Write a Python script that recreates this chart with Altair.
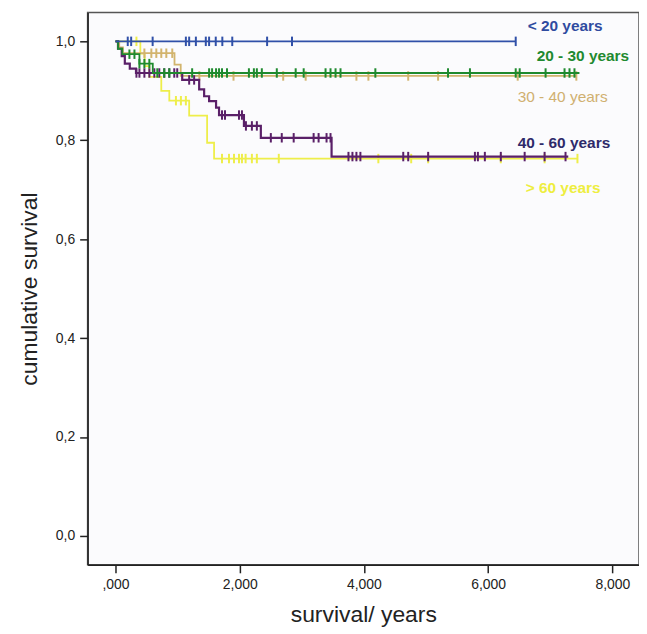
import altair as alt
import pandas as pd

# ---- data ----
groups = ["< 20 years", "20 - 30 years", "30 - 40 years", "40 - 60 years", "> 60 years"]
colors = ["#3050a8", "#1f8a2e", "#d2b46e", "#5a2068", "#eeee4a"]
label_colors = ["#2f4ba0", "#1f8a30", "#d0b070", "#2e2a6a", "#eeee40"]

blue_t = [0, 6444]
blue_s = [1.0, 1.0]
blue_cens = [197, 252, 598, 1133, 1186, 1294, 1454, 1507, 1614, 1720, 1880, 2441, 2842, 6444]

green_t = [0, 40, 110, 385, 600, 7470]
green_s = [1.0, 0.985, 0.974, 0.955, 0.936, 0.936]
green_cens = [224, 305, 385, 465, 545, 673, 785, 866, 1234, 1507, 1555, 1619, 1667, 1715,
              1795, 2148, 2228, 2276, 2356, 2597, 2901, 3030, 3382, 3462, 3543, 3623, 4184,
              5354, 5707, 6444, 6508, 6925, 7230, 7310, 7390]

tan_t = [0, 60, 120, 950, 1050, 7420]
tan_s = [1.0, 0.988, 0.976, 0.953, 0.93, 0.93]
tan_cens = [465, 577, 657, 737, 818, 914, 1350, 1900, 2700, 3062, 3879, 4072, 4713, 5194, 6476, 7420]

purple_t = [0, 40, 100, 150, 230, 330, 1074, 1347, 1427, 1507, 1619, 1667, 2068, 2340, 3479, 7290]
purple_s = [1.0, 0.985, 0.97, 0.955, 0.945, 0.936, 0.922, 0.903, 0.889, 0.879, 0.866, 0.851,
            0.829, 0.805, 0.767, 0.767]
purple_cens = [337, 385, 465, 545, 625, 705, 785, 866, 946, 994, 1186, 1266, 1715, 1763, 1988,
               2036, 2100, 2196, 2276, 2501, 2677, 2869, 3190, 3270, 3398, 3462, 3751, 3815,
               3879, 3943, 4633, 4713, 5034, 5787, 5835, 5947, 6204, 6588, 6909, 7246]

yellow_t = [0, 400, 470, 545, 737, 866, 1186, 1475, 1587, 7438]
yellow_s = [1.0, 0.975, 0.95, 0.928, 0.90, 0.88, 0.85, 0.795, 0.763, 0.763]
yellow_cens = [337, 973, 1053, 1133, 1715, 1827, 1908, 1988, 2036, 2095, 2196, 2276, 2629,
               4232, 4761, 5034, 6204, 6909, 7438]

label_x = [6636, 6781, 6476, 6476, 6604]
label_y = [1.030, 0.970, 0.887, 0.795, 0.704]
label_bold = [True, True, False, True, True]

x_ticks = [0, 2000, 4000, 6000, 8000]
y_ticks = [0.0, 0.2, 0.4, 0.6, 0.8, 1.0]

series = {
    "< 20 years": (blue_t, blue_s, blue_cens),
    "20 - 30 years": (green_t, green_s, green_cens),
    "30 - 40 years": (tan_t, tan_s, tan_cens),
    "40 - 60 years": (purple_t, purple_s, purple_cens),
    "> 60 years": (yellow_t, yellow_s, yellow_cens),
}
draw_order = ["> 60 years", "30 - 40 years", "40 - 60 years", "20 - 30 years", "< 20 years"]

line_rows, cens_rows = [], []
for g in groups:
    t, s, c = series[g]
    for ti, si in zip(t, s):
        line_rows.append({"group": g, "t": ti, "s": si})
    for ci in c:
        sv = [si for ti, si in zip(t, s) if ti <= ci][-1]
        cens_rows.append({"group": g, "t": ci, "s": sv})
lines_df = pd.DataFrame(line_rows)
cens_df = pd.DataFrame(cens_rows)

FONT = "Liberation Sans"
xscale = alt.Scale(domain=[-449, 8429], nice=False, zero=False)
yscale = alt.Scale(domain=[-0.0584, 1.0584], nice=False, zero=False)
cscale = alt.Scale(domain=groups, range=colors)

xenc = alt.X("t:Q", scale=xscale, title="survival/ years",
             axis=alt.Axis(values=x_ticks, grid=False, tickSize=8, tickWidth=1.5,
                           tickColor="#222", domainColor="#222", domainWidth=1.5,
                           labelFont=FONT, labelFontSize=14, labelColor="#222",
                           labelPadding=5,
                           labelExpr="datum.value == 0 ? ',000' : replace(format(datum.value/1000, '.3f'), '.', ',')",
                           titleFont=FONT, titleFontSize=23, titleFontWeight="normal",
                           titleColor="#222", titlePadding=12))
yenc = alt.Y("s:Q", scale=yscale, title="cumulative survival",
             axis=alt.Axis(values=y_ticks, grid=False, tickSize=8, tickWidth=1.5,
                           tickColor="#222", domainColor="#222", domainWidth=1.5,
                           labelFont=FONT, labelFontSize=14, labelColor="#222",
                           labelPadding=5,
                           labelExpr="replace(format(datum.value, '.1f'), '.', ',')",
                           titleFont=FONT, titleFontSize=23, titleFontWeight="normal",
                           titleColor="#222", titlePadding=14))

layers = []
for g in draw_order:
    w = 2.2 if g == "40 - 60 years" else 1.8
    layers.append(
        alt.Chart(lines_df[lines_df.group == g]).mark_line(interpolate="step-after", strokeWidth=w)
        .encode(x=xenc, y=yenc, color=alt.Color("group:N", scale=cscale, legend=None), order="t:Q")
    )
    layers.append(
        alt.Chart(cens_df[cens_df.group == g]).mark_point(shape="M0,-1L0,1", filled=False, size=90,
                                                        strokeWidth=2, opacity=1)
        .encode(x="t:Q", y="s:Q", color=alt.Color("group:N", scale=cscale, legend=None))
    )

for g, lx, ly, lc, b in zip(groups, label_x, label_y, label_colors, label_bold):
    ldf = pd.DataFrame({"t": [lx], "s": [ly], "label": [g]})
    layers.append(
        alt.Chart(ldf).mark_text(align="left", baseline="middle", font=FONT, fontSize=15.5,
                                 fontWeight="bold" if b else "normal", color=lc)
        .encode(x="t:Q", y="s:Q", text="label:N")
    )

chart = alt.layer(*layers).properties(
    width=554, height=555,
    autosize=alt.AutoSizeParams(type="none"),
    padding={"left": 80, "top": 3, "right": 0, "bottom": 62},
    background="white",
).configure_view(stroke="#555", strokeWidth=1.5, fill="#fbfbfd")

chart.save("out.html", embed_options={"renderer": "svg", "actions": False})
